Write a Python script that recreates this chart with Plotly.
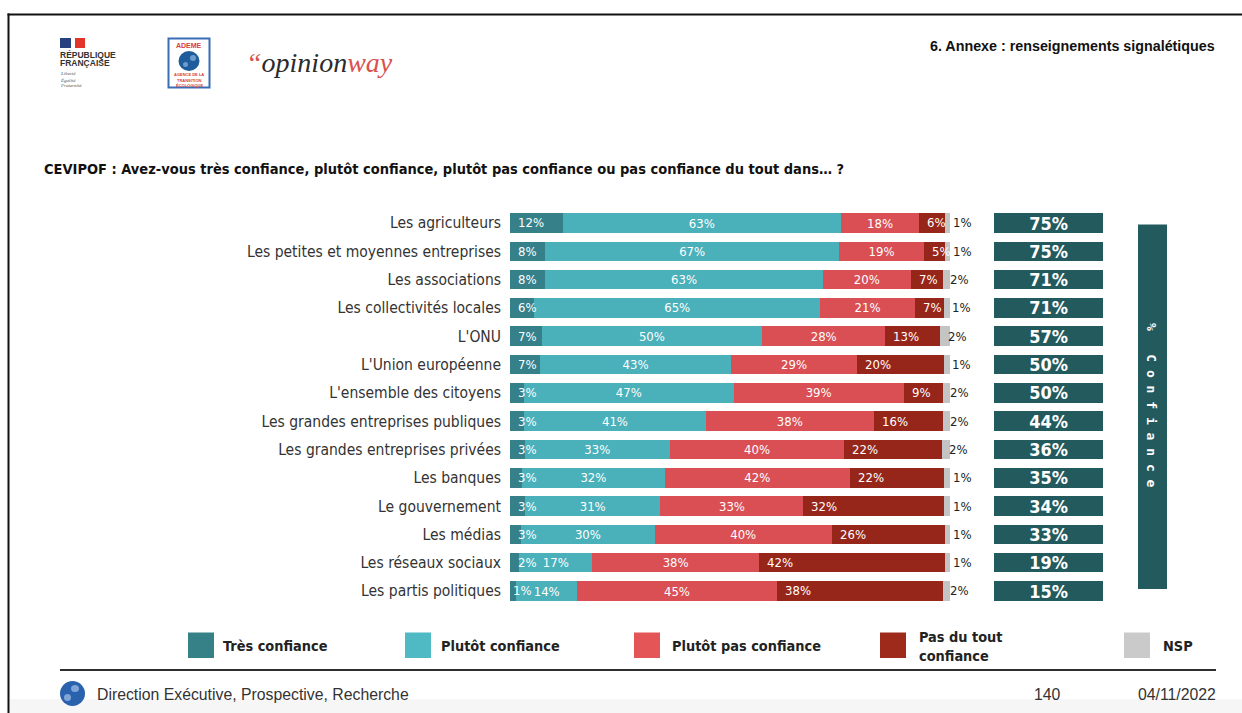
import plotly.graph_objects as go

# ---- data ----
categories = ["Les agriculteurs", "Les petites et moyennes entreprises", "Les associations",
              "Les collectivités locales", "L'ONU", "L'Union européenne", "L'ensemble des citoyens",
              "Les grandes entreprises publiques", "Les grandes entreprises privées", "Les banques",
              "Le gouvernement", "Les médias", "Les réseaux sociaux", "Les partis politiques"]
tres_confiance = [12.0, 8.0, 8.0, 5.5, 7.2, 6.9, 3.2, 3.2, 3.4, 2.7, 3.4, 2.5, 2.1, 1.4]
plutot_confiance = [63.2, 66.8, 63.1, 65.0, 50.1, 43.3, 47.6, 41.3, 32.9, 32.5, 30.8, 30.4, 16.6, 13.9]
plutot_pas = [17.8, 19.3, 20.0, 21.5, 28.0, 28.7, 38.7, 38.2, 39.7, 42.0, 32.5, 40.2, 37.9, 45.3]
pas_du_tout = [5.9, 4.8, 7.4, 6.7, 12.4, 19.7, 9.0, 15.8, 22.2, 21.5, 32.0, 25.8, 42.3, 37.7]
nsp = [1.1, 1.1, 1.5, 1.3, 2.3, 1.4, 1.5, 1.5, 1.8, 1.3, 1.3, 1.1, 1.1, 1.7]

lab_tres = [12, 8, 8, 6, 7, 7, 3, 3, 3, 3, 3, 3, 2, 1]
lab_plutot = [63, 67, 63, 65, 50, 43, 47, 41, 33, 32, 31, 30, 17, 14]
lab_pas = [18, 19, 20, 21, 28, 29, 39, 38, 40, 42, 33, 40, 38, 45]
lab_tout = [6, 5, 7, 7, 13, 20, 9, 16, 22, 22, 32, 26, 42, 38]
lab_nsp = [1, 1, 2, 1, 2, 1, 2, 2, 2, 1, 1, 1, 1, 2]
total_confiance = [75, 75, 71, 71, 57, 50, 50, 44, 36, 35, 34, 33, 19, 15]

legend_names = ["Très confiance", "Plutôt confiance", "Plutôt pas confiance", "Pas du tout<br>confiance", "NSP"]

# ---- style ----
W, H = 1242, 713
COND = "DejaVu Sans Condensed, DejaVu Sans, sans-serif"
ARIAL = "Liberation Sans, Arial, sans-serif"
C_BAR = ["#36808A", "#4AB0BA", "#D94F54", "#96261A", "#C4C4C4"]
C_SWATCH = ["#368088", "#4FBAC4", "#E45557", "#9D2A1B", "#CACACA"]
C_TOTAL = "#235A5E"
NSP_XSHIFT = [12, 12, 9, 11, 7, 11, 9, 9, 8, 12, 12, 12, 12, 9]


def px(x):
    return x / W


def py(y):
    return 1 - y / H


fig = go.Figure()
label_font = dict(family=COND, size=13, color="white")
series = [
    ("Très confiance", tres_confiance, None),
    ("Plutôt confiance", plutot_confiance, [f"{v}%" for v in lab_plutot]),
    ("Plutôt pas confiance", plutot_pas, [f"{v}%" for v in lab_pas]),
    ("Pas du tout confiance", pas_du_tout, None),
    ("NSP", nsp, None),
]
for (name, vals, text), col in zip(series, C_BAR):
    fig.add_trace(go.Bar(
        name=name, y=categories, x=vals, orientation="h", marker=dict(color=col, line=dict(width=0)),
        text=text, textposition="inside" if text else "none", insidetextanchor="middle",
        textangle=0, constraintext="none", insidetextfont=label_font,
        xaxis="x", yaxis="y",
    ))

fig.add_trace(go.Bar(
    name="% Confiance", y=categories, x=[1] * len(categories), orientation="h",
    marker=dict(color=C_TOTAL, line=dict(width=0)),
    text=[f"{v}%" for v in total_confiance], textposition="inside", insidetextanchor="middle",
    textangle=0, constraintext="none",
    insidetextfont=dict(family=COND, size=18, color="white", weight="bold"),
    xaxis="x2", yaxis="y",
))

row_h = (591 - 223) / 13
top, bottom = 223 - row_h / 2, 591 + row_h / 2
shapes, ann = [], []


def rect(x0, y0, x1, y1, fill, line=None, lw=0):
    shapes.append(dict(type="rect", xref="paper", yref="paper", x0=px(x0), x1=px(x1), y0=py(y0), y1=py(y1),
                       fillcolor=fill, line=dict(color=line or fill, width=lw), layer="below"))


def circle(x0, y0, x1, y1, fill):
    shapes.append(dict(type="circle", xref="paper", yref="paper", x0=px(x0), x1=px(x1), y0=py(y0), y1=py(y1),
                       fillcolor=fill, line=dict(width=0), layer="below"))


def txt(x, y, s, size, color="#222", family=COND, anchor="left", bold=False, italic=False, angle=0):
    f = dict(family=family, size=size, color=color)
    if bold:
        f["weight"] = "bold"
    if italic:
        f["style"] = "italic"
    dx = {"left": -2, "right": 2, "center": 0}[anchor]
    ann.append(dict(xref="paper", yref="paper", x=px(x + dx), y=py(y), text=s, showarrow=False, font=f,
                    xanchor=anchor, yanchor="middle", align="left", textangle=angle))


# labels of the first and fourth segments start at the segment's left edge and may overflow it
starts_tout = [a + b + c for a, b, c in zip(tres_confiance, plutot_confiance, plutot_pas)]
for cat, v, s in zip(categories, lab_tres, [0] * len(categories)):
    ann.append(dict(xref="x", yref="y", x=s, y=cat, text=f"{v}%", showarrow=False, xanchor="left",
                    xshift=6 if v > 1 else 1, font=label_font))
for cat, v, s in zip(categories, lab_tout, starts_tout):
    ann.append(dict(xref="x", yref="y", x=s, y=cat, text=f"{v}%", showarrow=False, xanchor="left",
                    xshift=6, font=label_font))

# page frame and bottom band
rect(10, 699, 1242, 713, "#F6F6F6")
rect(7.5, 13.5, 1242, 15.5, "#111")
rect(7.5, 13.5, 9.5, 713, "#111")

# logos
rect(60, 38, 71, 48, "#27407F")
rect(71, 38, 75, 48, "#FFFFFF")
rect(75, 38, 85, 48, "#E1352B")
txt(60, 55, "RÉPUBLIQUE", 8.5, "#333", ARIAL, bold=True)
txt(60, 63, "FRANÇAISE", 8.5, "#333", ARIAL, bold=True)
txt(60, 73, "Liberté", 5, "#555", "Liberation Serif", italic=True)
txt(60, 80, "Égalité", 5, "#555", "Liberation Serif", italic=True)
txt(60, 86, "Fraternité", 5, "#555", "Liberation Serif", italic=True)
rect(168.5, 38.5, 209.5, 87.5, "#FFFFFF", "#3B6DB5", 2)
txt(189, 45, "ADEME", 7, "#D9403A", ARIAL, "center", bold=True)
circle(178.5, 51, 199.5, 71, "#1F5C9C")
circle(190, 55, 196, 61, "#6C9CCB")
circle(183, 62, 188, 67, "#6C9CCB")
txt(189, 75, "AGENCE DE LA", 4, "#D9403A", ARIAL, "center", bold=True)
txt(189, 80, "TRANSITION", 4, "#D9403A", ARIAL, "center", bold=True)
txt(189, 85, "ÉCOLOGIQUE", 4, "#D9403A", ARIAL, "center", bold=True)
txt(246, 63, '<span style="color:#D8524E">“</span>opinion<span style="color:#D8524E">way</span>',
    28, "#2B2B2B", "Liberation Serif", italic=True)

# header and question
txt(1215, 46, "6. Annexe : renseignements signalétiques", 14.3, "#111", ARIAL, "right", bold=True)
txt(44, 169, "CEVIPOF : Avez-vous très confiance, plutôt confiance, plutôt pas confiance ou pas confiance du tout dans… ?",
    14.5, "#111", COND, bold=True)

# vertical pillar
rect(1138, 224.5, 1167, 589, C_TOTAL)
txt(1152, 405, "%\u00a0\u00a0\u00a0C\u00a0o\u00a0n\u00a0f\u00a0i\u00a0a\u00a0n\u00a0c\u00a0e", 13, "white",
    "DejaVu Sans Mono", "center", bold=True, angle=90)

# NSP labels beyond the bars
for cat, v, sh in zip(categories, lab_nsp, NSP_XSHIFT):
    ann.append(dict(xref="x", yref="y", x=100, y=cat, text=f"{v}%", showarrow=False, xshift=sh,
                    xanchor="center", font=dict(family=COND, size=13, color="#222")))

# legend
swatch_x = [188, 405, 634, 880, 1124]
text_x = [223, 441, 672, 919, 1163]
for name, col, sx, tx in zip(legend_names, C_SWATCH, swatch_x, text_x):
    rect(sx, 632.5, sx + 26, 658, col)
    txt(tx, 646, name, 14.4, "#222", COND, bold=True)

# footer
rect(60, 669, 1216, 671, "#2E2E2E")
circle(60, 681, 85, 706, "#2A62AE")
circle(71, 685, 79, 692, "#7FA6D6")
circle(64, 694, 71, 701, "#7FA6D6")
txt(97, 694, "Direction Exécutive, Prospective, Recherche", 15.8, "#333", ARIAL)
txt(1047, 694, "140", 15.8, "#333", ARIAL, "center")
txt(1216, 694, "04/11/2022", 15.8, "#333", ARIAL, "right")

fig.update_layout(
    width=W, height=H, margin=dict(l=0, r=0, t=0, b=0), barmode="stack", bargap=0.31,
    showlegend=False, paper_bgcolor="white", plot_bgcolor="white",
    xaxis=dict(domain=[px(510), px(950)], range=[0, 100], visible=False, fixedrange=True),
    xaxis2=dict(domain=[px(994), px(1103)], range=[0, 1], visible=False, anchor="y", fixedrange=True),
    yaxis=dict(domain=[py(bottom), py(top)], range=[13.5, -0.5], anchor="x", showline=False, showgrid=False,
               ticks="", ticklabelstandoff=8, fixedrange=True, automargin=False,
               tickfont=dict(family=COND, size=15.5, color="#333")),
    shapes=shapes, annotations=ann,
)
fig.write_html("out.html", config={"displayModeBar": False},
               post_script="document.body.style.margin='0';document.documentElement.style.overflow='hidden';")
